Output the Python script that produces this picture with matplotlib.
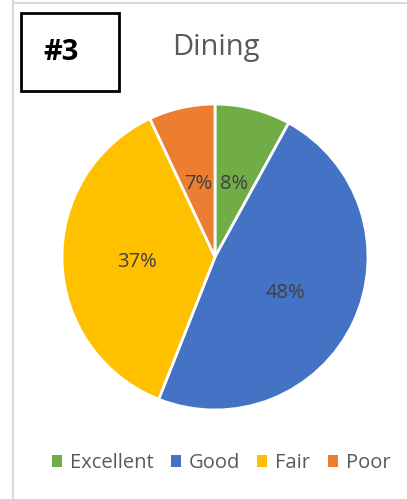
import matplotlib.pyplot as plt
from matplotlib.patches import Rectangle, Patch
from matplotlib.lines import Line2D

categories = ["Excellent", "Good", "Fair", "Poor"]
values = [8, 48, 37, 7]
colors = ["#70ad47", "#4472c4", "#ffc000", "#ed7d31"]
title = "Dining"
tag = "#3"

plt.rcParams['font.family'] = ['Open Sans', 'DejaVu Sans']

W, H = 407, 499
fig = plt.figure(figsize=(W / 100, H / 100), dpi=100)

def fx(px):
    return px / W

def fy(py):
    return 1 - py / H

# light frame lines
fig.add_artist(Line2D([fx(13), fx(13)], [0, 1], color="#d9d9d9", lw=1.5))
fig.add_artist(Line2D([fx(13), 1], [fy(3), fy(3)], color="#d9d9d9", lw=1.5))

# tag box
fig.add_artist(Rectangle((fx(21), fy(91)), fx(119) - fx(21), fy(13) - fy(91),
                         fill=False, ec="black", lw=2))
fig.text(fx(61), fy(52), tag, ha="center", va="center", fontsize=21,
         fontweight="bold", color="black")
fig.text(fx(216), fy(47), title, ha="center", va="center", fontsize=21,
         color="#595959")

cx, cy, r = 215, 257, 153
ax = fig.add_axes([fx(cx - r), fy(cy + r), 2 * r / W, 2 * r / H])
wedges, texts, autotexts = ax.pie(
    values, colors=colors, startangle=90, counterclock=False,
    autopct=lambda p: f"{p:.0f}%", pctdistance=0.51,
    wedgeprops=dict(edgecolor="white", linewidth=2),
    textprops=dict(fontsize=14.5, color="#404040"))
for t in autotexts:
    x, y = t.get_position()
    t.set_position((x, y - 0.018))
ax.set_xlim(-1, 1)
ax.set_ylim(-1, 1)
ax.set_aspect("equal")

handles = [Patch(facecolor=c, label=l) for c, l in zip(colors, categories)]
fig.legend(handles=handles, loc="center", bbox_to_anchor=(fx(221), fy(463)),
           ncol=4, frameon=False, fontsize=14.5, handlelength=0.5,
           handleheight=0.5, handletextpad=0.4, columnspacing=0.85,
           labelcolor="#595959")

fig.savefig("out.png", dpi=100)
